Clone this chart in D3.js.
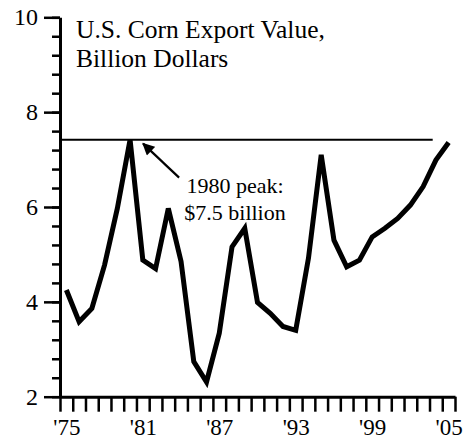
<!DOCTYPE html>
<html>
<head>
<meta charset="utf-8">
<script src="https://cdn.jsdelivr.net/npm/d3@7"></script>
<style>
body { margin: 0; background: #fff; }
text { font-family: "Liberation Serif", serif; fill: #000; }
</style>
</head>
<body>
<svg width="463" height="441"></svg>
<script>
// corn export value, billion dollars, one value per year
var years = d3.range(1975, 2006);
var exportValue = [4.25, 3.58, 3.86, 4.78, 5.97, 7.42, 4.88, 4.70, 5.97, 4.85,
                   2.74, 2.31, 3.34, 5.16, 5.55, 3.99, 3.76, 3.48, 3.40, 4.92,
                   7.10, 5.30, 4.74, 4.88, 5.37, 5.55, 5.76, 6.04, 6.43, 6.99, 7.36];
var yearLabels = [1975, 1981, 1987, 1993, 1999, 2005];
var yMajor = [2, 4, 6, 8, 10];
var yMinor = d3.range(0, 21).map(function (i) { return +(2 + i * 0.4).toFixed(1); });
var peakYear = 1980;

var svg = d3.select("svg");

var x = d3.scaleLinear().domain([1975, 2006]).range([60, 455]);
var y = d3.scaleLinear().domain([2, 10]).range([396.7, 17.3]);

var peakValue = exportValue[years.indexOf(peakYear)];

// peak reference line
svg.append("line")
  .attr("x1", x(1975)).attr("x2", x(2004.25))
  .attr("y1", y(peakValue)).attr("y2", y(peakValue))
  .attr("stroke", "#000").attr("stroke-width", 2);

// the series
var line = d3.line()
  .x(function (d, i) { return x(years[i] + 0.5); })
  .y(function (d) { return y(d); });

svg.append("path")
  .datum(exportValue)
  .attr("d", line)
  .attr("fill", "none")
  .attr("stroke", "#000")
  .attr("stroke-width", 5)
  .attr("stroke-linejoin", "miter");

// x axis: ticks at year edges, labels centred on the year
var xg = svg.append("g").attr("transform", "translate(0," + y(2) + ")");
xg.call(d3.axisBottom(x).tickValues(d3.range(1975, 2007)).tickSize(15).tickSizeOuter(0).tickFormat(""));
xg.select(".domain").attr("stroke-width", 3);
xg.selectAll(".tick line").attr("stroke-width", 2.5);

var xl = svg.append("g").attr("transform", "translate(0," + y(2) + ")");
xl.call(d3.axisBottom(x).tickValues(yearLabels.map(function (d) { return d + 0.5; }))
  .tickSize(0).tickPadding(22)
  .tickFormat(function (d) { return "'" + String(Math.floor(d)).slice(2); }));
xl.select(".domain").remove();
xl.selectAll("text")
  .style("font-size", "23px")
  .style("font-family", "'Liberation Serif', serif");

// y axis
var ym = svg.append("g").attr("transform", "translate(" + x(1975) + ",0)");
ym.call(d3.axisLeft(y).tickValues(yMinor).tickSize(8).tickSizeOuter(0).tickFormat(""));
ym.select(".domain").attr("stroke-width", 3);
ym.selectAll(".tick line").attr("stroke-width", 2.5);

var yM = svg.append("g").attr("transform", "translate(" + x(1975) + ",0)");
yM.call(d3.axisLeft(y).tickValues(yMajor).tickSize(16).tickSizeOuter(0).tickPadding(6));
yM.select(".domain").remove();
yM.selectAll(".tick line").attr("stroke-width", 2.5);
yM.selectAll("text")
  .style("font-size", "24px")
  .style("font-family", "'Liberation Serif', serif");

// title
var title = svg.append("text")
  .attr("x", 76).attr("y", 38)
  .style("font-size", "25.5px");
title.append("tspan").attr("x", 76).text("U.S. Corn Export Value,");
title.append("tspan").attr("x", 76).attr("dy", 29).text("Billion Dollars");

// peak annotation
var px = x(peakYear + 0.5), py = y(peakValue);
svg.append("defs").append("marker")
  .attr("id", "head")
  .attr("viewBox", "0 0 10 10")
  .attr("refX", 9).attr("refY", 5)
  .attr("markerWidth", 6).attr("markerHeight", 5.5)
  .attr("orient", "auto")
  .append("path").attr("d", "M0,0L10,5L0,10Z").attr("fill", "#000");

svg.append("line")
  .attr("x1", px + 49).attr("y1", py + 38)
  .attr("x2", px + 13).attr("y2", py + 4)
  .attr("stroke", "#000").attr("stroke-width", 2.2)
  .attr("marker-end", "url(#head)");

var note = svg.append("text")
  .attr("x", 235).attr("y", 193)
  .style("font-size", "22px")
  .attr("text-anchor", "middle");
note.append("tspan").attr("x", 235).text("1980 peak:");
note.append("tspan").attr("x", 235).attr("dy", 27).text("$7.5 billion");
</script>
</body>
</html>
